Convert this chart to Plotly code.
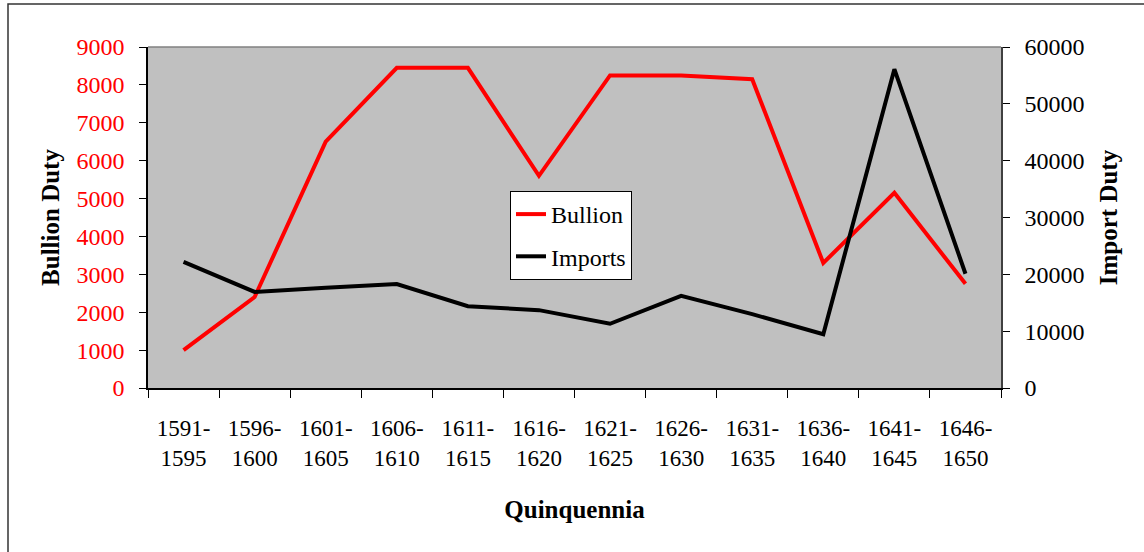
import plotly.graph_objects as go

# Five-year periods and duty receipts
periods = ["1591-<br>1595", "1596-<br>1600", "1601-<br>1605", "1606-<br>1610",
           "1611-<br>1615", "1616-<br>1620", "1621-<br>1625", "1626-<br>1630",
           "1631-<br>1635", "1636-<br>1640", "1641-<br>1645", "1646-<br>1650"]
bullion = [1000, 2400, 6500, 8450, 8450, 5600, 8250, 8250, 8150, 3300, 5150, 2750]
imports = [22200, 16900, 17650, 18300, 14400, 13700, 11300, 16200, 13000, 9450, 56100, 20100]

SERIF = "Liberation Serif, Times New Roman, serif"

fig = go.Figure()
fig.add_trace(go.Scatter(x=periods, y=bullion, name="Bullion", mode="lines",
                         line=dict(color="#FF0000", width=4), legendgroup="a"))
fig.add_trace(go.Scatter(x=periods, y=imports, name="Imports", mode="lines",
                         line=dict(color="#000000", width=4), yaxis="y2", legendgroup="b"))

W, H = 1144, 552
L, R, T, B = 148, 143, 47, 164
pw, ph = W - L - R, H - T - B

def px_x(p):
    return (p - L) / pw

def px_y(p):
    return (H - B - p) / ph

fig.update_layout(
    width=W, height=H,
    margin=dict(l=L, r=R, t=T, b=B),
    paper_bgcolor="white",
    plot_bgcolor="#C0C0C0",
    font=dict(family=SERIF, size=24, color="black"),
    showlegend=True,
    legend=dict(x=px_x(510), y=px_y(191), xanchor="left", yanchor="top",
                bgcolor="white", bordercolor="black", borderwidth=1,
                font=dict(family=SERIF, size=24, color="black"),
                tracegroupgap=8),
    xaxis=dict(type="category", range=[-0.5, len(periods) - 0.5],
               tickson="boundaries", ticks="outside", ticklen=8,
               tickcolor="black", showline=True, linecolor="black", linewidth=1.5,
               showgrid=False, zeroline=False, tickangle=0,
               tickfont=dict(family=SERIF, size=23, color="black"),
               ticklabelstandoff=19,
               title=dict(text="<b>Quinquennia</b>", font=dict(family=SERIF, size=25),
                          standoff=30)),
    yaxis=dict(range=[0, 9000], dtick=1000, ticks="outside", ticklen=7,
               tickcolor="black", showline=True, linecolor="black", linewidth=1.5,
               showgrid=False, zeroline=False, tickformat="d",
               tickfont=dict(family=SERIF, size=24, color="#FF0000"),
               ticklabelstandoff=10,
               title=dict(text="<b>Bullion Duty</b>", font=dict(family=SERIF, size=25),
                          standoff=10)),
    yaxis2=dict(range=[0, 60000], dtick=10000, overlaying="y", side="right",
                ticks="outside", ticklen=7, tickcolor="black", showline=True,
                linecolor="#404040", linewidth=1.5, showgrid=False, zeroline=False,
                tickformat="d",
                tickfont=dict(family=SERIF, size=24, color="black"),
                ticklabelstandoff=10,
                title=dict(text="<b>Import Duty</b>", font=dict(family=SERIF, size=25),
                           standoff=16)),
    shapes=[
        # thin grey frame on top of the plotting area
        dict(type="line", xref="paper", yref="paper", x0=0, x1=1, y0=1, y1=1,
             line=dict(color="#808080", width=1.5)),
        # outer chart border
        dict(type="rect", xref="paper", yref="paper",
             x0=px_x(8), x1=px_x(1170), y0=px_y(580), y1=px_y(4),
             line=dict(color="#333333", width=1.5), layer="above"),
    ],
)

fig.write_html("out.html")
